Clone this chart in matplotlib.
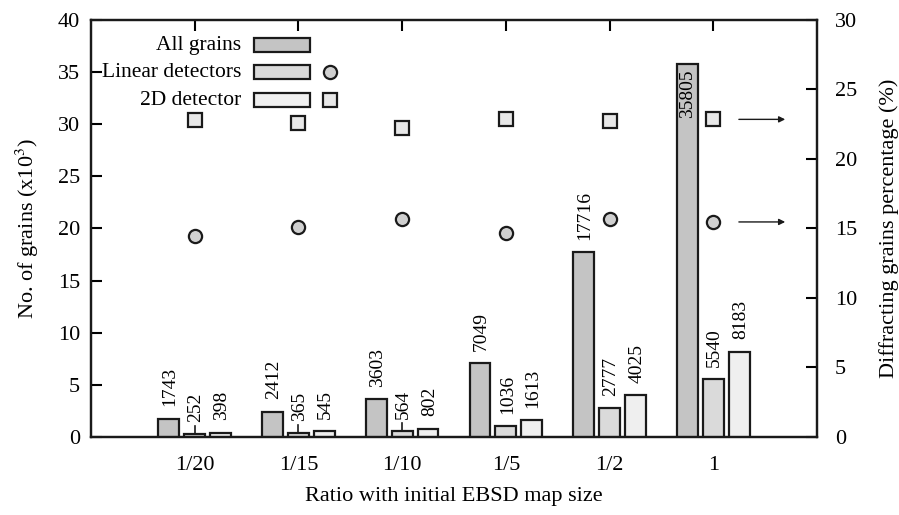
import matplotlib
matplotlib.use("Agg")
import matplotlib.pyplot as plt
from matplotlib.patches import Rectangle
from matplotlib.lines import Line2D
import numpy as np

plt.rcParams["font.family"] = ["Liberation Serif", "DejaVu Serif"]
plt.rcParams["mathtext.fontset"] = "stix"

# ---- Data ----
ratios = ["1/20", "1/15", "1/10", "1/5", "1/2", "1"]
all_grains = [1743, 2412, 3603, 7049, 17716, 35805]
linear_grains = [252, 365, 564, 1036, 2777, 5540]
detector2d_grains = [398, 545, 802, 1613, 4025, 8183]
linear_pct = [14.46, 15.13, 15.65, 14.70, 15.67, 15.47]
detector2d_pct = [22.83, 22.60, 22.26, 22.88, 22.72, 22.85]
# small upward marks on the first linear-detector bars (x10^3)
linear_marks = [0.8, 0.8, 0.8, 0, 0, 0]

c_all = "#c4c4c4"
c_lin = "#dadada"
c_2d = "#efefef"

fig = plt.figure(figsize=(8.99, 5.15), dpi=100)
ax = fig.add_axes([0.1012, 0.1515, 0.8076, 0.8097])
ax2 = ax.twinx()

x = np.arange(1, len(ratios) + 1)
w = 0.2
off = 0.25
series = [(all_grains, c_all, -off), (linear_grains, c_lin, 0), (detector2d_grains, c_2d, off)]
for vals, col, dx in series:
    h = np.array(vals) / 1000
    ax.bar(x + dx, h, width=w, color=col, edgecolor="#1a1a1a", linewidth=1.6, zorder=3)
    for xi, hi, v in zip(x + dx, h, vals):
        if hi > 30:
            ax.annotate(str(v), (xi, hi), xytext=(0, -4), textcoords="offset points",
                        rotation=90, ha="center", va="top", fontsize=14, zorder=4)
        else:
            ax.annotate(str(v), (xi, hi), xytext=(1, 9), textcoords="offset points",
                        rotation=90, ha="center", va="bottom", fontsize=14, zorder=4)

lin_h = np.array(linear_grains) / 1000
for xi, hi, m in zip(x, lin_h, linear_marks):
    if m > 0:
        ax.plot([xi, xi], [hi, hi + m], color="#1a1a1a", lw=1.2, zorder=4)

ax2.plot(x, linear_pct, "o", ms=9.5, mfc="#d0d0d0", mec="#1a1a1a", mew=1.6, ls="none", zorder=5)
ax2.plot(x, detector2d_pct, "s", ms=9.5, mfc="#e8e8e8", mec="#1a1a1a", mew=1.6, ls="none", zorder=5)

# arrows pointing to the right axis
for yv in [detector2d_pct[-1], linear_pct[-1]]:
    ax2.annotate("", xy=(6.72, yv), xytext=(6.22, yv),
                 arrowprops=dict(arrowstyle="-|>", color="#1a1a1a", lw=1.0, mutation_scale=9))

ax.set_xlim(0, 7)
ax.set_ylim(0, 40)
ax2.set_ylim(0, 30)
ax.set_xticks(x)
ax.set_xticklabels(ratios)
ax.set_yticks(range(0, 41, 5))
ax2.set_yticks(range(0, 31, 5))

ax.tick_params(axis="x", direction="in", top=True, bottom=False, length=8, width=1.5, labelsize=16, pad=14)
ax.tick_params(axis="y", direction="in", right=False, length=8, width=1.5, labelsize=16, pad=8)
ax2.tick_params(axis="y", direction="in", length=8, width=1.5, labelsize=16, pad=13)
for a in (ax, ax2):
    for s in a.spines.values():
        s.set_linewidth(1.6)
        s.set_color("#1a1a1a")

ax.set_xlabel("Ratio with initial EBSD map size", fontsize=16, labelpad=8)
ax.set_ylabel("No. of grains (x10$^3$)", fontsize=16, labelpad=12)
ax2.set_ylabel("Diffracting grains percentage (%)", fontsize=16, labelpad=16)

# ---- legend drawn by hand: text, box, marker ----
legend_rows = [("All grains", c_all, None, None),
               ("Linear detectors", c_lin, "o", "#d0d0d0"),
               ("2D detector", c_2d, "s", "#e8e8e8")]
row_y = [0.940, 0.875, 0.808]
for (lab, col, mk, mfc), yy in zip(legend_rows, row_y):
    ax.text(0.207, yy, lab, transform=ax.transAxes, ha="right", va="center", fontsize=15.5, zorder=6)
    ax.add_patch(Rectangle((0.2245, yy - 0.016), 0.0771, 0.032, transform=ax.transAxes,
                           facecolor=col, edgecolor="#1a1a1a", lw=1.6, zorder=6))
    if mk:
        ax.add_line(Line2D([0.3292], [yy], transform=ax.transAxes, marker=mk, ms=9.5,
                           mfc=mfc, mec="#1a1a1a", mew=1.6, ls="none", zorder=6))

fig.savefig("out.png", dpi=100)
